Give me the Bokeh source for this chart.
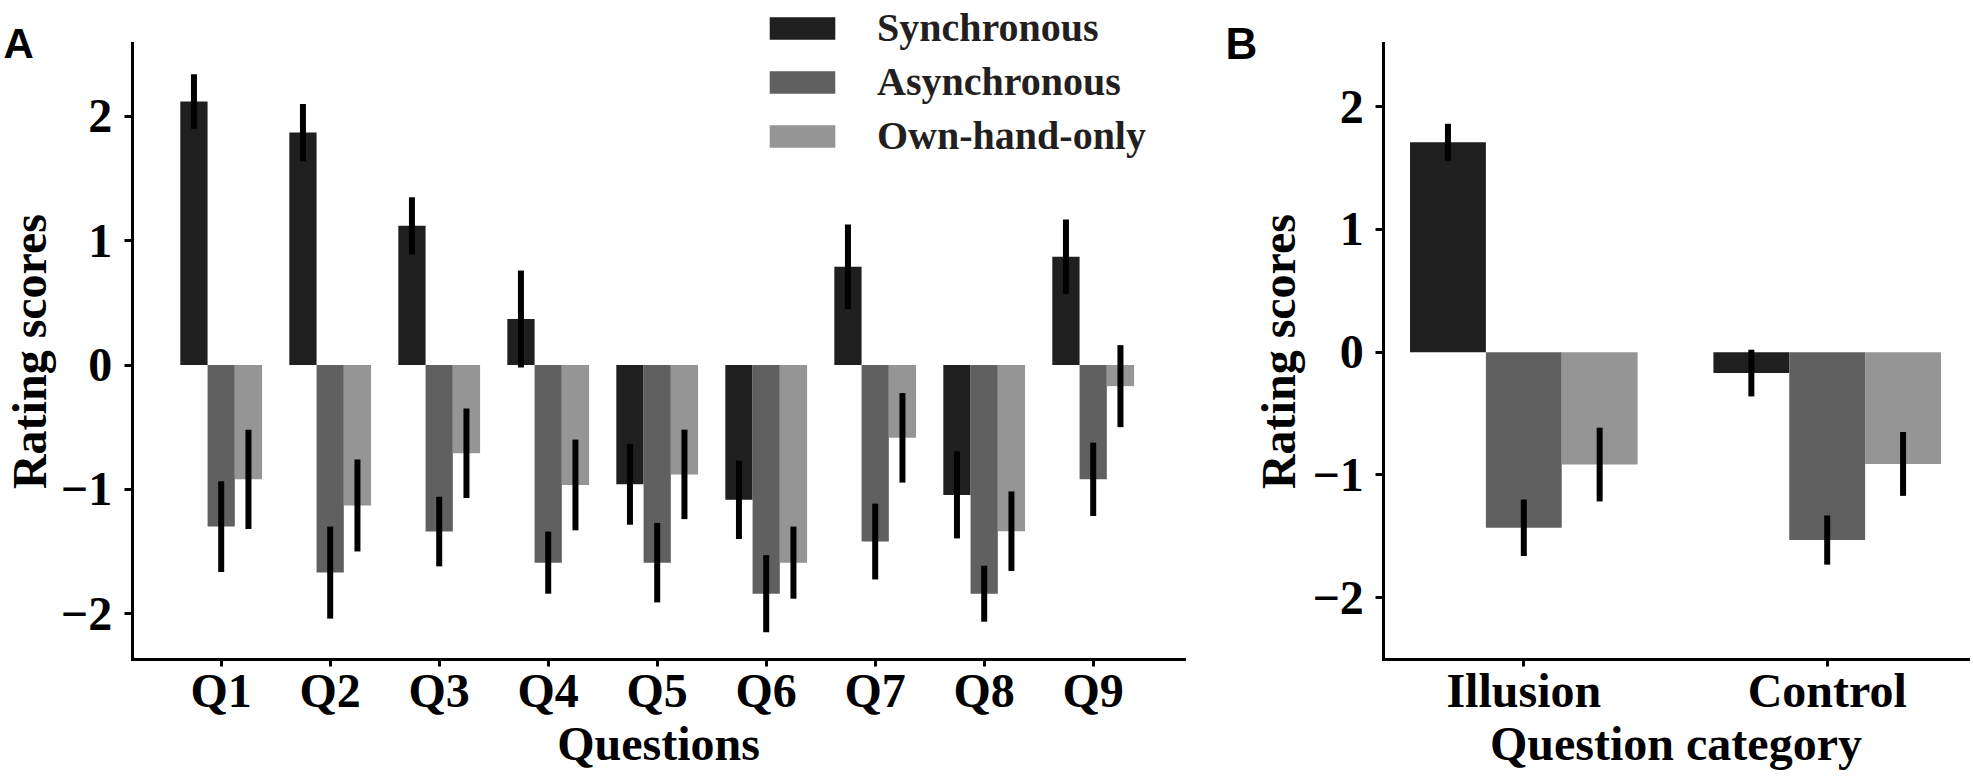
from bokeh.plotting import figure
from bokeh.models import (ColumnDataSource, Range1d, Legend, LegendItem,
                          Label, FixedTicker)
from bokeh.transform import dodge
from bokeh.layouts import row
from bokeh.embed import file_html
from bokeh.resources import INLINE

# ---------------- data ----------------
questions = ["Q1", "Q2", "Q3", "Q4", "Q5", "Q6", "Q7", "Q8", "Q9"]
sync_mean = [2.12, 1.87, 1.12, 0.37, -0.96, -1.085, 0.79, -1.045, 0.87]
sync_err = [0.22, 0.23, 0.23, 0.39, 0.325, 0.315, 0.34, 0.35, 0.30]
async_mean = [-1.30, -1.67, -1.34, -1.59, -1.59, -1.84, -1.42, -1.84, -0.92]
async_err = [0.365, 0.37, 0.28, 0.25, 0.32, 0.31, 0.305, 0.225, 0.295]
own_mean = [-0.92, -1.13, -0.71, -0.965, -0.88, -1.59, -0.586, -1.337, -0.17]
own_err = [0.40, 0.37, 0.36, 0.365, 0.36, 0.29, 0.36, 0.32, 0.33]

categories = ["Illusion", "Control"]
b_sync_mean = [1.71, -0.17]
b_sync_err = [0.15, 0.19]
b_async_mean = [-1.43, -1.53]
b_async_err = [0.23, 0.20]
b_own_mean = [-0.915, -0.91]
b_own_err = [0.30, 0.26]

series_names = ["Synchronous", "Asynchronous", "Own-hand-only"]
colors = ["#1f1f1f", "#606060", "#959595"]
y_ticks = [-2, -1, 0, 1, 2]
y_tick_labels = {-2: "\u22122", -1: "\u22121", 0: "0", 1: "1", 2: "2"}

FONT = "Liberation Serif"
H = 777


def make_source(cats, means, errs):
    data = {"cat": cats, "idx": list(range(len(cats)))}
    for i, (m, e) in enumerate(zip(means, errs)):
        data[f"m{i}"] = m
        data[f"lo{i}"] = [a - b for a, b in zip(m, e)]
        data[f"hi{i}"] = [a + b for a, b in zip(m, e)]
    return ColumnDataSource(data)


def make_fig(width, cats, xr, yr, x_axis_lim, y_axis_lim, ylab_standoff):
    p = figure(width=width, height=H, output_backend="svg", toolbar_location=None,
               x_range=Range1d(*xr), y_range=Range1d(*yr),
               min_border_left=0, min_border_right=0,
               min_border_top=0, min_border_bottom=0)
    p.xgrid.visible = False
    p.ygrid.visible = False
    p.outline_line_color = None
    p.background_fill_color = "white"
    p.border_fill_color = "white"
    xa, ya = p.xaxis[0], p.yaxis[0]
    for ax in (xa, ya):
        ax.axis_line_width = 3
        ax.axis_line_color = "black"
        ax.axis_line_cap = "square"
        ax.major_tick_line_width = 3
        ax.major_tick_line_color = "black"
        ax.major_tick_in = 0
        ax.minor_tick_line_color = None
        ax.major_label_text_font = FONT
        ax.major_label_text_font_style = "bold"
        ax.major_label_text_font_size = "48px"
        ax.major_label_text_color = "black"
        ax.axis_label_text_font = FONT
        ax.axis_label_text_font_style = "bold"
        ax.axis_label_text_font_size = "48px"
        ax.axis_label_text_color = "black"
    ya.ticker = FixedTicker(ticks=y_ticks)
    ya.major_label_overrides = y_tick_labels
    ya.major_tick_out = 8
    ya.major_label_standoff = 12
    ya.axis_label_standoff = ylab_standoff
    ya.fixed_location = x_axis_lim[0]
    ya.bounds = y_axis_lim
    xa.ticker = FixedTicker(ticks=list(range(len(cats))))
    xa.major_label_overrides = {i: c for i, c in enumerate(cats)}
    xa.major_tick_out = 7
    xa.major_label_standoff = -3
    xa.axis_label_standoff = -3
    xa.fixed_location = y_axis_lim[0]
    xa.bounds = x_axis_lim
    return p


def draw_groups(p, src, offset, width):
    renderers = []
    for i, c in enumerate(colors):
        x = dodge("idx", (i - 1) * offset)
        r = p.vbar(x=x, top=f"m{i}", bottom=0, width=width, source=src,
                   fill_color=c, line_color=None)
        renderers.append(r)
    for i in range(3):
        x = dodge("idx", (i - 1) * offset)
        p.segment(x0=x, x1=x, y0=f"lo{i}", y1=f"hi{i}", source=src,
                  line_color="black", line_width=6, line_cap="butt")
    return renderers


# ---------------- panel A ----------------
srcA = make_source(questions, [sync_mean, async_mean, own_mean],
                   [sync_err, async_err, own_err])
pA = make_fig(1200, questions, xr=(-2.0248, 8.9844), yr=(-3.3186, 2.9325),
              x_axis_lim=(-0.8165, 8.838), y_axis_lim=(-2.372, 2.587),
              ylab_standoff=2)
pA.yaxis[0].axis_label = "Rating scores"
pA.xaxis[0].axis_label = "Questions"
rA = draw_groups(pA, srcA, 0.25, 0.25)

legend = Legend(items=[LegendItem(label=n, renderers=[r]) for n, r in zip(series_names, rA)],
                location=(761, 618), orientation="vertical",
                glyph_width=82, glyph_height=28, label_standoff=34,
                spacing=7, padding=0, margin=0,
                border_line_color=None, background_fill_alpha=0,
                label_text_font=FONT, label_text_font_style="bold",
                label_text_font_size="40px", label_text_color="#231f20")
pA.add_layout(legend)

pA.add_layout(Label(x=3, y=734, x_units="screen", y_units="screen", text="A",
                    text_font="Liberation Sans", text_font_style="bold",
                    text_font_size="42px", text_color="black",
                    text_baseline="alphabetic", text_align="left"))

# ---------------- panel B ----------------
srcB = make_source(categories, [b_sync_mean, b_async_mean, b_own_mean],
                   [b_sync_err, b_async_err, b_own_err])
pB = make_fig(773, categories, xr=(-1.0656, 1.4822), yr=(-3.4634, 2.8640),
              x_axis_lim=(-0.4614, 1.4667), y_axis_lim=(-2.505, 2.515),
              ylab_standoff=4)
pB.yaxis[0].axis_label = "Rating scores"
pB.xaxis[0].axis_label = "Question category"
draw_groups(pB, srcB, 0.25, 0.25)

pB.add_layout(Label(x=25, y=734, x_units="screen", y_units="screen", text="B",
                    text_font="Liberation Sans", text_font_style="bold",
                    text_font_size="44px", text_color="black",
                    text_baseline="alphabetic", text_align="left"))

layout = row(pA, pB)
open("out.html", "w").write(file_html(layout, INLINE))
